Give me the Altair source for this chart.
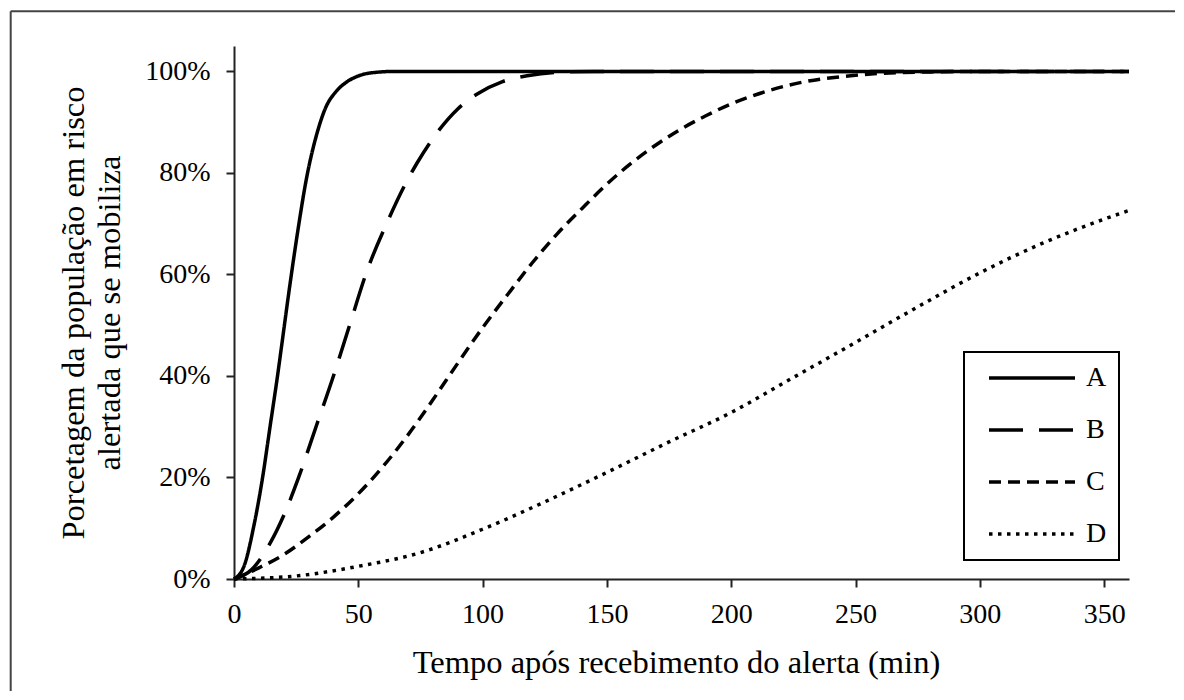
import altair as alt
import pandas as pd

# Time (min) and % of population mobilised
tA = [0, 4, 8, 11.5, 14.5, 17.5, 20, 22.5, 25.8, 29, 33.5, 37, 41, 45, 49, 55, 65, 80, 360]
vA = [0, 2.5, 10.5, 20, 30, 40, 49, 58, 69, 78.5, 88, 93, 96, 97.8, 98.9, 99.7, 100, 100, 100]

tB = [0, 7, 14.7, 20, 26, 33, 40, 46.5, 53, 62.3, 68.6, 73.7, 81.8, 90, 98, 108, 118.6, 130, 145, 360]
vB = [0, 1.8, 7.2, 12.5, 20, 30, 40, 50, 60, 71, 77.5, 82, 88, 92.6, 95.6, 98, 99.2, 99.8, 100, 100]

tC = [0, 10, 20, 30, 40, 50, 60, 70, 80, 90, 100, 110, 120, 130, 140, 150, 160, 170,
      180, 190, 200, 215, 230, 245, 260, 280, 300, 360]
vC = [0, 2.2, 4.8, 8.3, 12.2, 16.8, 22.2, 28.4, 35.3, 42.5, 49.5, 56, 62.3, 68, 73, 77.8,
      82, 85.6, 88.7, 91.3, 93.6, 96.2, 98, 99, 99.6, 99.9, 100, 100]

tD = [0, 25, 50, 75, 100, 125, 150, 175, 200, 225, 250, 275, 300, 325, 350, 360]
vD = [0, 0.6, 2.5, 5.2, 9.8, 15.2, 21.0, 27.0, 32.8, 39.7, 46.6, 53.6, 60.3, 66.1, 70.9, 72.6]

series = ["A", "B", "C", "D"]
x_ticks = [0, 50, 100, 150, 200, 250, 300, 350]
y_ticks = [0, 0.2, 0.4, 0.6, 0.8, 1.0]

rows = []
for name, ts, vs in zip(series, [tA, tB, tC, tD], [vA, vB, vC, vD]):
    for t, v in zip(ts, vs):
        rows.append({"serie": name, "t": t, "p": v / 100.0})
df = pd.DataFrame(rows)

FONT = "Liberation Serif"

lines = alt.Chart(df).mark_line(
    color="black", strokeWidth=3.5, interpolate="monotone", strokeCap="butt"
).encode(
    x=alt.X("t:Q",
            scale=alt.Scale(domain=[0, 360], nice=False),
            axis=alt.Axis(values=x_ticks, title="Tempo após recebimento do alerta (min)",
                          labelPadding=13, titlePadding=18, labelFlush=False, titleX=442)),
    y=alt.Y("p:Q",
            scale=alt.Scale(domain=[0, 1.05], nice=False),
            axis=alt.Axis(values=y_ticks, format=".0%",
                          title=["Porcetagem da população em risco", "alertada que se mobiliza"],
                          labelPadding=16, titlePadding=18, titleLineHeight=36,
                          labelFlush=False)),
    strokeDash=alt.StrokeDash(
        "serie:N",
        scale=alt.Scale(domain=series, range=[[1, 0], [34, 16], [12, 7], [3.5, 5.5]]),
        legend=alt.Legend(
            title=None, orient="none", legendX=730, legendY=306,
            symbolType="stroke", symbolSize=7396, symbolStrokeWidth=3.5,
            symbolStrokeColor="black", clipHeight=28, rowPadding=24,
            labelFont=FONT, labelFontSize=28, labelColor="black", labelOffset=9,
            padding=12, symbolOffset=11, strokeColor="black", fillColor="white",
        ),
    ),
)

one = alt.Data(values=[{"k": 0}])
border_v = alt.Chart(one).mark_rule(color="#444", strokeWidth=2).encode(
    x=alt.value(-223.3), y=alt.value(-34.7), y2=alt.value(645)
)
border_h = alt.Chart(one).mark_rule(color="#444", strokeWidth=2).encode(
    y=alt.value(-34.7), x=alt.value(-223.3), x2=alt.value(941)
)

chart = alt.layer(lines, border_v, border_h).properties(
    width=895, height=533,
    padding={"left": 1, "top": 2, "right": 0, "bottom": 0},
).configure_view(stroke=None).configure_axis(
    grid=False, domainColor="#222", domainWidth=2, tickColor="#222", tickWidth=2,
    tickSize=8, labelFont=FONT, labelFontSize=28, labelColor="black",
    titleFont=FONT, titleFontSize=32.5, titleFontWeight="normal", titleColor="black",
).configure_legend(
    strokeWidth=2
)

chart.save("out.html", embed_options={"renderer": "svg", "actions": False})
